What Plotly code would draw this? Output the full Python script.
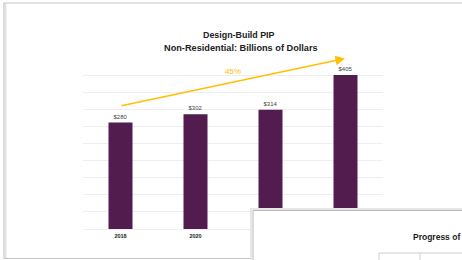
import plotly.graph_objects as go

years = ["2018", "2020", "2022", "2024"]
values = [280, 302, 314, 405]
labels = ["$280", "$302", "$314", "$405"]
growth_label = "45%"

W, H = 462, 260
def px(x): return x / W
def py(y): return (H - y) / H

fig = go.Figure()
fig.add_trace(go.Bar(
    x=years, y=values, text=labels, textposition="outside",
    textfont=dict(size=6, color="#444444", family="Liberation Sans"),
    marker=dict(color="#521C4E", line=dict(width=0)),
    cliponaxis=False, width=0.32, hoverinfo="skip",
))

shapes = [
    # slide frame
    dict(type="rect", xref="paper", yref="paper", x0=px(4), x1=px(470), y0=py(258.5), y1=py(3),
         line=dict(color="#c4c4c4", width=1.2), fillcolor="rgba(0,0,0,0)", layer="below"),
    dict(type="line", xref="paper", yref="paper", x0=px(5.5), x1=px(5.5), y0=py(258), y1=py(4),
         line=dict(color="#e2e2e2", width=2), layer="below"),
    # overlay box
    dict(type="rect", xref="paper", yref="paper", x0=px(251), x1=px(475), y0=py(275), y1=py(209),
         line=dict(color="#e6e6e6", width=2), fillcolor="white", layer="above"),
    dict(type="rect", xref="paper", yref="paper", x0=px(253), x1=px(475), y0=py(275), y1=py(210.5),
         line=dict(color="#b8b8b8", width=1), fillcolor="white", layer="above"),
    dict(type="line", xref="paper", yref="paper", x0=px(379), x1=px(470), y0=py(253), y1=py(253),
         line=dict(color="#cfcfcf", width=1), layer="above"),
    dict(type="line", xref="paper", yref="paper", x0=px(379), x1=px(379), y0=py(253), y1=py(265),
         line=dict(color="#cfcfcf", width=1), layer="above"),
    dict(type="line", xref="paper", yref="paper", x0=px(420), x1=px(420), y0=py(253), y1=py(265),
         line=dict(color="#cfcfcf", width=1), layer="above"),
]

annotations = [
    dict(text="<b>Design-Build PIP</b>", xref="paper", yref="paper", x=px(238.5), y=py(35),
         showarrow=False, font=dict(size=8.9, color="#222222", family="Liberation Sans"),
         xanchor="center", yanchor="middle"),
    dict(text="<b>Non-Residential: Billions of Dollars</b>", xref="paper", yref="paper", x=px(240.5), y=py(48),
         showarrow=False, font=dict(size=9.2, color="#222222", family="Liberation Sans"),
         xanchor="center", yanchor="middle"),
    dict(text="", xref="paper", yref="paper", axref="pixel", ayref="pixel",
         x=px(345), y=py(58.5), ax=120 - 345, ay=106 - 58.5,
         showarrow=True, arrowhead=2, arrowsize=1.2, arrowwidth=1.6, arrowcolor="#FFC000"),
    dict(text=growth_label, xref="paper", yref="paper", x=px(232.5), y=py(71),
         showarrow=False, font=dict(size=8, color="#FFC000", family="Liberation Sans"),
         xanchor="center", yanchor="middle"),
    dict(text="<b>Progress of</b>", xref="paper", yref="paper", x=px(411), y=py(237),
         showarrow=False, font=dict(size=8.5, color="#222222", family="Liberation Sans"),
         xanchor="left", yanchor="middle"),
]

fig.update_layout(
    width=W, height=H, margin=dict(l=0, r=0, t=0, b=0),
    paper_bgcolor="white", plot_bgcolor="white",
    showlegend=False, bargap=0.68, hovermode=False,
    shapes=shapes, annotations=annotations,
    xaxis=dict(domain=[px(83), px(383)], showgrid=False, showline=False, zeroline=False,
               tickfont=dict(size=5.5, color="#222222", family="Liberation Sans", weight="bold"),
               ticks="", ticklabelstandoff=2),
    yaxis=dict(domain=[py(229), py(58)], range=[0, 450], dtick=45, showticklabels=False,
               showgrid=True, gridcolor="#eeeeee", gridwidth=1, zeroline=True,
               zerolinecolor="#eeeeee", zerolinewidth=1, showline=False),
)

fig.write_html("out.html", config={"displayModeBar": False, "staticPlot": True},
               post_script="document.body.style.margin='0px';document.body.style.overflow='hidden';")
